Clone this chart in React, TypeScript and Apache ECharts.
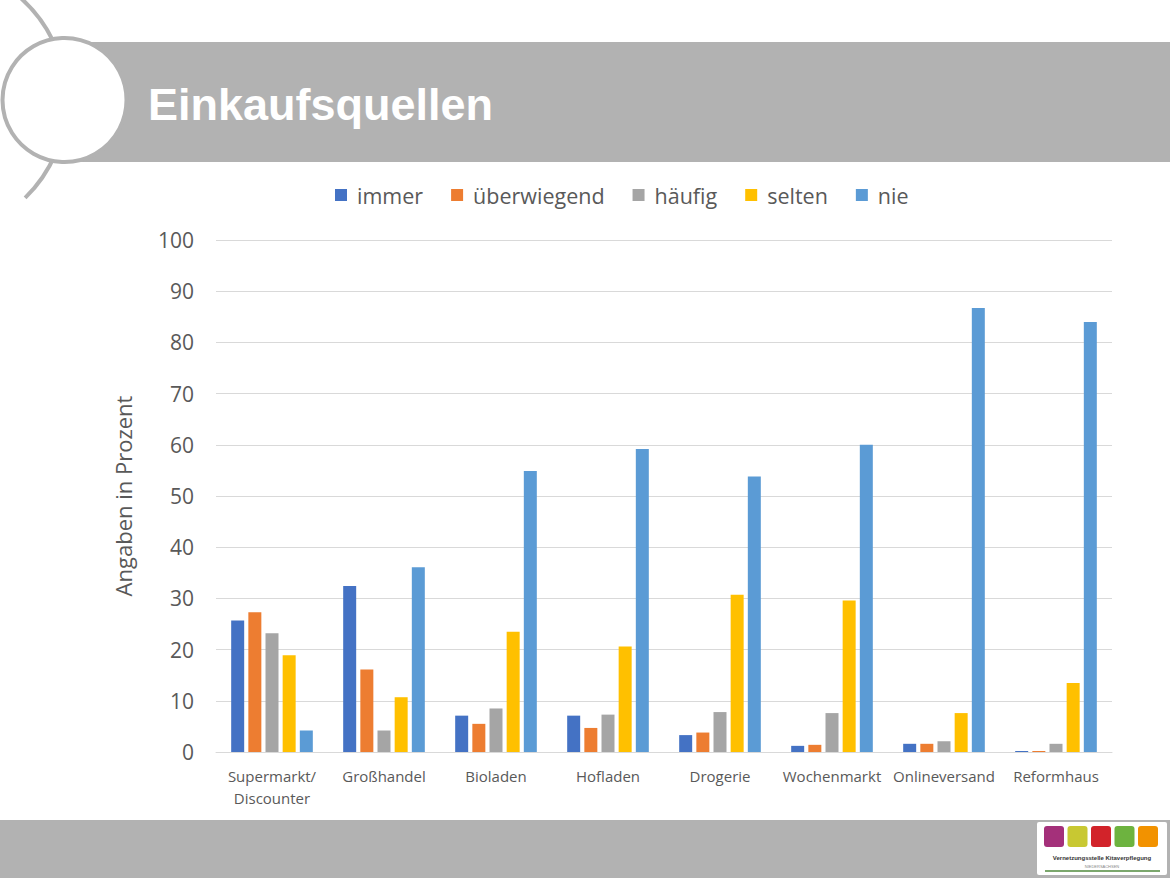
import React, { useEffect, useRef } from "react";
import * as echarts from "echarts";

const categories = [
  "Supermarkt/\nDiscounter",
  "Großhandel",
  "Bioladen",
  "Hofladen",
  "Drogerie",
  "Wochenmarkt",
  "Onlineversand",
  "Reformhaus",
];
const seriesNames = ["immer", "überwiegend", "häufig", "selten", "nie"];
const immer = [25.7, 32.4, 7.1, 7.1, 3.3, 1.2, 1.6, 0.2];
const ueberwiegend = [27.3, 16.1, 5.5, 4.7, 3.8, 1.4, 1.6, 0.2];
const haeufig = [23.2, 4.2, 8.5, 7.3, 7.8, 7.6, 2.1, 1.6];
const selten = [18.9, 10.7, 23.5, 20.6, 30.7, 29.6, 7.6, 13.5];
const nie = [4.2, 36.1, 54.9, 59.2, 53.8, 60.0, 86.7, 84.0];
const yTicks = [0, 10, 20, 30, 40, 50, 60, 70, 80, 90, 100];
const colors = ["#4472C4", "#ED7D31", "#A5A5A5", "#FFC000", "#5B9BD5"];

const FONT = "'Open Sans', 'Noto Sans', sans-serif";
const GRAY = "#b2b2b2";

export default function App() {
  const ref = useRef<HTMLDivElement>(null);
  useEffect(() => {
    if (!ref.current) return;
    const chart = echarts.init(ref.current, undefined, { renderer: "svg" });
    const values = [immer, ueberwiegend, haeufig, selten, nie];
    const logoColors = ["#a4307a", "#c8c832", "#d2232a", "#6db33f", "#f29200"];
    chart.setOption({
      animation: false,
      backgroundColor: "#ffffff",
      textStyle: { fontFamily: FONT },
      legend: {
        left: 330,
        top: 179,
        itemWidth: 12,
        itemHeight: 12,
        itemGap: 28,
        icon: "rect",
        data: seriesNames,
        textStyle: {
          fontSize: 21.5,
          color: "#595959",
          fontFamily: FONT,
          padding: [0, 0, 0, 5],
        },
      },
      grid: { left: 216, right: 58, top: 240, bottom: 126, containLabel: false },
      xAxis: {
        type: "category",
        data: categories,
        axisLine: { lineStyle: { color: "#d9d9d9", width: 1 } },
        axisTick: { show: false },
        axisLabel: {
          interval: 0,
          fontSize: 15,
          color: "#595959",
          margin: 13,
          lineHeight: 22,
          fontFamily: FONT,
        },
      },
      yAxis: {
        type: "value",
        min: yTicks[0],
        max: yTicks[yTicks.length - 1],
        interval: 10,
        name: "Angaben in Prozent",
        nameLocation: "middle",
        nameGap: 82,
        nameTextStyle: { fontSize: 22, color: "#595959", fontFamily: FONT },
        axisLine: { show: false },
        axisTick: { show: false },
        splitLine: { lineStyle: { color: "#d9d9d9", width: 1 } },
        axisLabel: { fontSize: 21, color: "#595959", margin: 22, fontFamily: FONT },
      },
      series: seriesNames.map((name, i) => ({
        name,
        type: "bar",
        data: values[i],
        barWidth: 13,
        barGap: "32%",
        itemStyle: { color: colors[i] },
      })),
      graphic: [
        {
          type: "rect",
          z: 1,
          shape: { x: 60, y: 42, width: 1110, height: 120 },
          style: { fill: GRAY },
        },
        {
          type: "arc",
          z: 2,
          shape: { cx: -70, cy: 100, r: 136.5, startAngle: -0.84, endAngle: 0.8, clockwise: true },
          style: { stroke: GRAY, lineWidth: 4, fill: "none" },
        },
        {
          type: "circle",
          z: 3,
          shape: { cx: 64.5, cy: 100, r: 62 },
          style: { fill: "#ffffff", stroke: GRAY, lineWidth: 4 },
        },
        {
          type: "text",
          z: 4,
          x: 148,
          y: 104,
          style: {
            text: "Einkaufsquellen",
            fill: "#ffffff",
            font: "bold 45px 'Liberation Sans', Arial, sans-serif",
            verticalAlign: "middle",
            align: "left",
          },
        },
        {
          type: "rect",
          z: 1,
          shape: { x: 0, y: 820, width: 1170, height: 58 },
          style: { fill: GRAY },
        },
        {
          type: "rect",
          z: 2,
          shape: { x: 1037, y: 822, width: 130, height: 53, r: 2 },
          style: { fill: "#ffffff" },
        },
        ...logoColors.map((c, i) => ({
          type: "rect",
          z: 3,
          shape: { x: 1044 + i * 23.5, y: 826, width: 20, height: 21, r: 3 },
          style: { fill: c },
        })),
        {
          type: "text",
          z: 3,
          x: 1102,
          y: 858,
          style: {
            text: "Vernetzungsstelle Kitaverpflegung",
            fill: "#333333",
            font: "bold 6px 'Liberation Sans', sans-serif",
            align: "center",
            verticalAlign: "middle",
          },
        },
        {
          type: "text",
          z: 3,
          x: 1102,
          y: 866,
          style: {
            text: "NIEDERSACHSEN",
            fill: "#888888",
            font: "4px 'Liberation Sans', sans-serif",
            align: "center",
            verticalAlign: "middle",
          },
        },
        {
          type: "line",
          z: 3,
          shape: { x1: 1045, y1: 871, x2: 1160, y2: 871 },
          style: { stroke: "#4f8a3c", lineWidth: 1.5 },
        },
      ],
    });
    return () => chart.dispose();
  }, []);
  return (
    <div
      ref={ref}
      style={{ position: "fixed", left: 0, top: 0, width: 1170, height: 878 }}
    />
  );
}
